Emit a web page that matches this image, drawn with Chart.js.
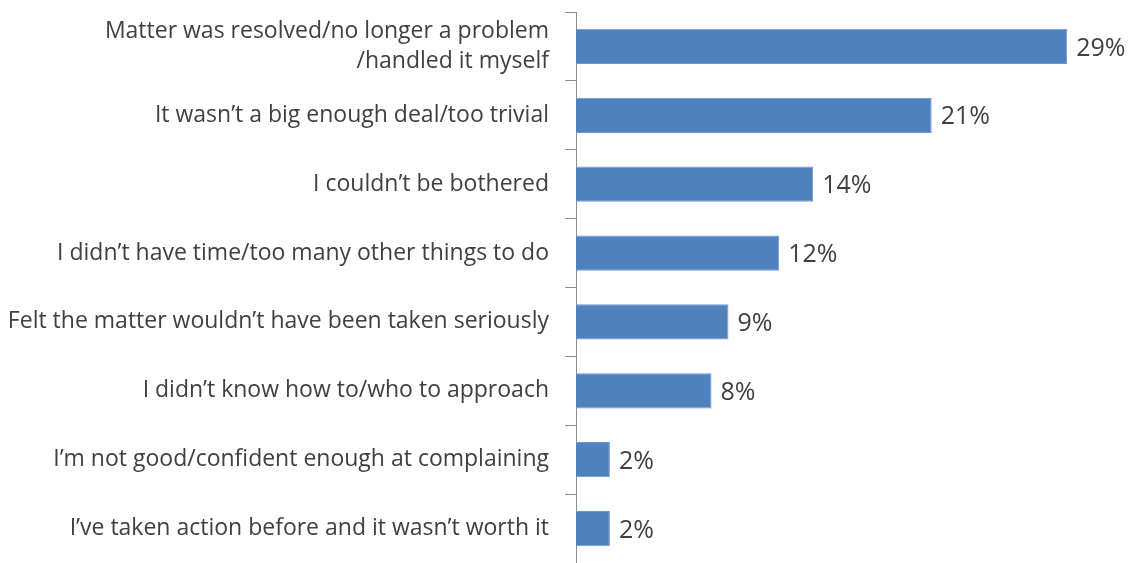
<!DOCTYPE html>
<html>
<head>
<meta charset="utf-8">
<script src="https://cdn.jsdelivr.net/npm/chart.js@4"></script>
<style>
    html, body { margin: 0; padding: 0; background: #fff; }
    #wrap { width: 1130px; height: 563px; position: relative; }
</style>
</head>
<body>
<div id="wrap"><canvas id="reasonsChart"></canvas></div>
<script>
// reasons for not complaining (% of respondents)
const reasons = [
    ['Matter was resolved/no longer a problem', '/handled it myself'],
    'It wasn\u2019t a big enough deal/too trivial',
    'I couldn\u2019t be bothered',
    'I didn\u2019t have time/too many other things to do',
    'Felt the matter wouldn\u2019t have been taken seriously',
    'I didn\u2019t know how to/who to approach',
    'I\u2019m not good/confident enough at complaining',
    'I\u2019ve taken action before and it wasn\u2019t worth it'
];
const shares = [29, 21, 14, 12, 9, 8, 2, 2];

const TEXT_COLOR = '#404040';
const BAR_COLOR = '#4F81BD';
const AXIS_COLOR = '#8c8c8c';
const FONT = '"Open Sans", "Noto Sans", sans-serif';

// write the percentage just past the end of each bar
const valueLabels = {
    id: 'valueLabels',
    afterDatasetsDraw(chart) {
        const ctx = chart.ctx;
        const meta = chart.getDatasetMeta(0);
        ctx.save();
        ctx.font = '25px ' + FONT;
        ctx.fillStyle = TEXT_COLOR;
        ctx.textAlign = 'left';
        ctx.textBaseline = 'middle';
        meta.data.forEach((bar, i) => {
            ctx.fillText(shares[i] + '%', bar.x + 9, bar.y + 2);
        });
        ctx.restore();
    }
};

new Chart(document.getElementById('reasonsChart'), {
    type: 'bar',
    data: {
        labels: reasons,
        datasets: [{
            data: shares,
            backgroundColor: BAR_COLOR,
            borderColor: '#6f97c9',
            borderWidth: 1,
            borderSkipped: 'start',
            barPercentage: 0.51,
            categoryPercentage: 1
        }]
    },
    options: {
        indexAxis: 'y',
        responsive: true,
        maintainAspectRatio: false,
        animation: false,
        layout: { padding: { top: 12, right: 12, bottom: 0, left: 0 } },
        plugins: {
            legend: { display: false },
            tooltip: { enabled: false }
        },
        scales: {
            x: {
                display: false,
                min: 0,
                max: 32
            },
            y: {
                // fixed axis position, and no extra room reserved for the tall first label
                afterFit(scale) {
                    scale.width = 576;
                    scale.paddingTop = 0;
                    scale.paddingBottom = 0;
                },
                grid: {
                    offset: true,
                    drawOnChartArea: false,
                    drawTicks: true,
                    tickLength: 11,
                    color: AXIS_COLOR
                },
                border: { color: AXIS_COLOR, width: 1 },
                ticks: {
                    color: TEXT_COLOR,
                    padding: 16,
                    font: { family: FONT, size: 23, lineHeight: 1.32 }
                }
            }
        }
    },
    plugins: [valueLabels]
});
</script>
</body>
</html>
